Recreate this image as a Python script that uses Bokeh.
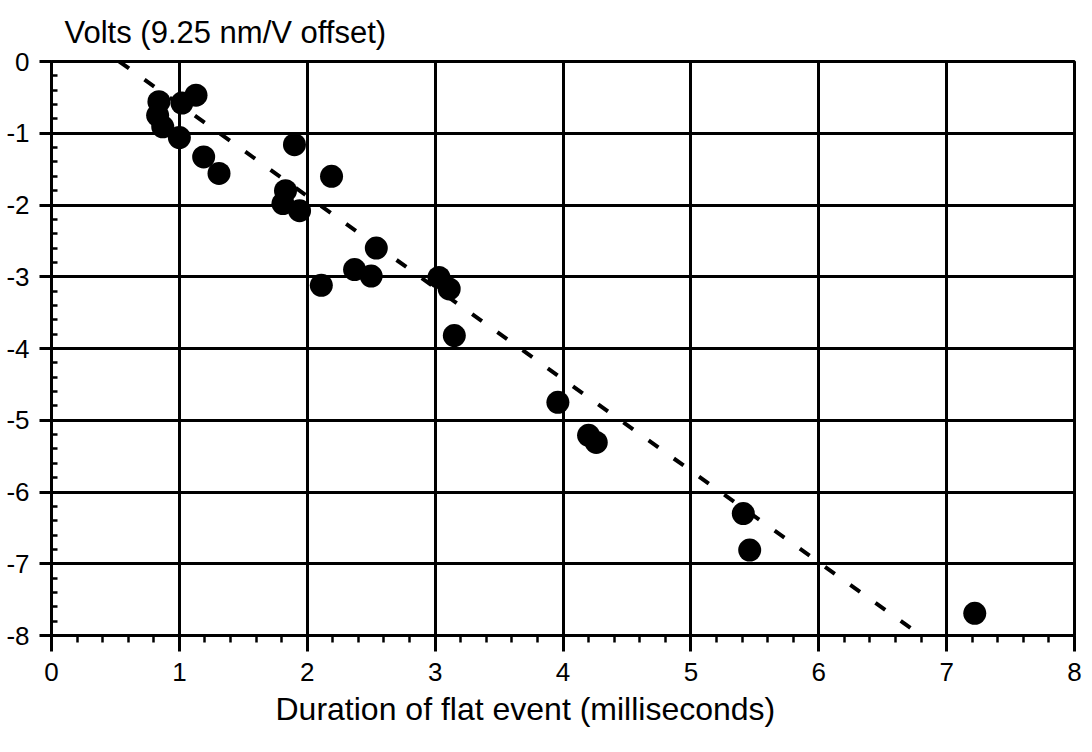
from bokeh.plotting import figure
from bokeh.models import Range1d, SingleIntervalTicker, ColumnDataSource, PrintfTickFormatter, Title
from bokeh.embed import file_html
from bokeh.resources import INLINE

# ---- data ----
duration_ms = [0.84, 0.83, 0.87, 1.00, 1.02, 1.13, 1.19, 1.31,
               1.90, 2.19, 1.83, 1.81, 1.94, 2.54, 2.37, 2.50, 2.11,
               3.03, 3.11, 3.15, 3.96, 4.20, 4.26, 5.41, 5.46, 7.22]
volts = [-0.56, -0.75, -0.91, -1.06, -0.58, -0.47, -1.33, -1.56,
         -1.16, -1.60, -1.80, -1.98, -2.08, -2.60, -2.90, -2.99, -3.12,
         -3.01, -3.17, -3.82, -4.75, -5.21, -5.31, -6.30, -6.81, -7.69]

fit_x = [0.53, 6.80]
fit_y = [0.0, -8.0]

x_label = "Duration of flat event (milliseconds)"
y_label = "Volts (9.25 nm/V offset)"

FONT = "Liberation Sans"

p = figure(width=1084, height=744, output_backend="svg", toolbar_location=None,
           x_range=Range1d(0, 8), y_range=Range1d(-8, 0),
           min_border_left=51, min_border_right=10, min_border_top=55,
           min_border_bottom=109)

p.title.text = y_label
p.title.align = "left"
p.title.offset = 13
p.title.standoff = 24
p.title.text_font = FONT
p.title.text_font_size = "31px"
p.title.text_font_style = "normal"
p.title.text_color = "black"

p.outline_line_color = "black"
p.outline_line_width = 3
p.outline_line_alpha = 1.0

# grids
for g in (p.xgrid, p.ygrid):
    g.grid_line_color = "black"
    g.grid_line_width = 3
    g.grid_line_alpha = 1.0

# x axis
xa = p.xaxis[0]
xa.ticker = SingleIntervalTicker(interval=1, num_minor_ticks=5)
xa.formatter = PrintfTickFormatter(format="%d")
xa.axis_line_width = 3
xa.axis_line_color = "black"
xa.major_tick_in = 0
xa.major_tick_out = 16
xa.major_tick_line_width = 3
xa.minor_tick_in = 0
xa.minor_tick_out = 7
xa.minor_tick_line_width = 2.5
xa.major_label_text_font = FONT
xa.major_label_text_font_size = "26px"
xa.major_label_text_color = "black"
xa.major_label_standoff = 11

# x axis title, placed below the axis (left-aligned like the reference)
xt = Title(text=x_label, align="left", offset=224, standoff=10,
           text_font=FONT, text_font_size="32px", text_font_style="normal",
           text_color="black")
p.add_layout(xt, "below")

# y axis
ya = p.yaxis[0]
ya.ticker = SingleIntervalTicker(interval=1, num_minor_ticks=5)
ya.formatter = PrintfTickFormatter(format="%d")
ya.axis_line_width = 3
ya.axis_line_color = "black"
ya.major_tick_in = 0
ya.major_tick_out = 12
ya.major_tick_line_width = 3
ya.minor_tick_in = 6
ya.minor_tick_out = 0
ya.minor_tick_line_width = 2.5
ya.major_label_text_font = FONT
ya.major_label_text_font_size = "26px"
ya.major_label_text_color = "black"
ya.major_label_standoff = 10

# fit line
p.line(fit_x, fit_y, line_color="black", line_width=4, line_dash="12 19")

# points
src = ColumnDataSource(dict(x=duration_ms, y=volts))
p.scatter("x", "y", source=src, size=23, marker="circle",
          fill_color="black", line_color=None)

open("out.html", "w").write(file_html(p, INLINE))
